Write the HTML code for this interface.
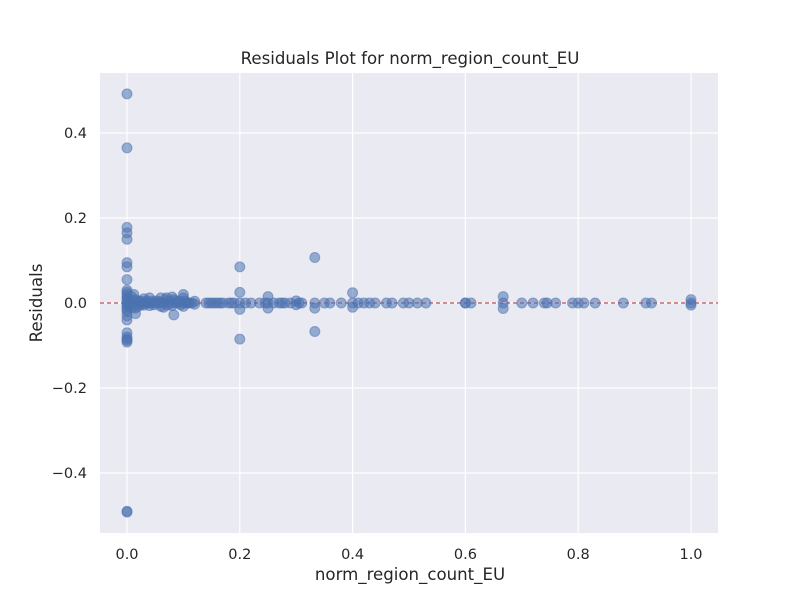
<!DOCTYPE html>
<html><head><meta charset="utf-8"><style>
body{margin:0;background:#fff;}
svg text{font-family:"DejaVu Sans","Liberation Sans",sans-serif;fill:#262626;}
</style></head><body>
<svg id="chart" width="800" height="600">
<rect x="100" y="73" width="618" height="460" fill="#eaeaf2"/>
<g id="grid"></g>
<g id="ticks"></g>
<line id="zero" stroke="#c44e52" stroke-width="1.2" stroke-dasharray="4,3"/>
<g id="pts"></g>
<text x="410" y="64" text-anchor="middle" font-size="16.6">Residuals Plot for norm_region_count_EU</text>
<text x="410" y="580" text-anchor="middle" font-size="16.6">norm_region_count_EU</text>
<text transform="translate(42,303) rotate(-90)" text-anchor="middle" font-size="16.6">Residuals</text>
</svg>
<script>
const xTicks=[0,0.2,0.4,0.6,0.8,1.0];
const xTickLabels=["0.0","0.2","0.4","0.6","0.8","1.0"];
const yTicks=[-0.4,-0.2,0,0.2,0.4];
const yTickLabels=["\u22120.4","\u22120.2","0.0","0.2","0.4"];
const pointX=[0,0,0,0,0,0,0,0,0,0,0,0,0,0,0,0,0,0,0,0,0,0,0,0,0,0,0,0,
0.003,0.005,0.006,0.008,0.01,0.01,0.012,0.012,0.015,0.015,0.015,0.018,0.02,0.02,0.022,0.025,0.025,0.028,0.03,0.03,0.033,0.035,0.038,0.04,0.04,0.042,0.045,0.048,0.05,0.053,0.055,0.058,0.06,0.06,0.063,0.065,0.068,0.07,0.07,0.072,0.075,0.078,0.08,0.08,0.083,0.083,0.085,0.088,0.09,0.093,0.095,0.1,0.1,0.1,0.1,0.103,0.105,0.108,0.11,0.115,0.12,0.12,
0.14,0.145,0.15,0.155,0.16,0.165,0.17,0.18,0.185,0.19,0.2,0.2,0.2,0.2,0.2,0.21,0.22,0.235,0.245,0.25,0.25,0.25,0.26,0.27,0.275,0.28,0.29,0.3,0.3,0.305,0.31,0.333,0.333,0.333,0.333,
0.35,0.36,0.38,0.4,0.4,0.4,0.41,0.42,0.43,0.44,0.46,0.47,0.49,0.5,0.515,0.53,0.6,0.6,0.61,0.667,0.667,0.667,0.7,0.72,0.74,0.745,0.76,0.79,0.8,0.81,0.83,0.88,0.92,0.93,1.0,1.0,1.0];
const pointY=[0.492,0.365,0.178,0.165,0.15,0.095,0.085,0.055,0.03,0.025,0.02,0.015,0.01,0.005,0.0,-0.005,-0.01,-0.015,-0.02,-0.03,-0.04,-0.07,-0.08,-0.085,-0.088,-0.092,-0.49,-0.492,
0.01,-0.005,0.0,0.015,0.005,-0.01,0.0,0.02,-0.025,0.008,-0.012,0.0,0.005,-0.008,0.0,0.004,-0.004,0.0,0.01,-0.005,0.0,0.005,0.0,0.012,-0.006,0.0,0.004,-0.004,0.0,0.005,0.0,0.003,0.012,-0.008,0.0,-0.01,0.008,0.012,0.0,-0.005,0.005,0.0,0.014,-0.006,-0.028,0.008,0.0,0.005,0.0,0.004,-0.004,0.02,0.012,-0.008,0.0,0.005,0.0,0.0,0.0,0.0,0.004,-0.003,
0,0,0,0,0,0,0,0,0,0,0.085,0.025,0.0,-0.015,-0.085,0,0,0,0,0.015,0.0,-0.012,0,0,0,0,0,0.005,-0.004,0,0,0.107,0.0,-0.012,-0.067,
0,0,0,0.024,0.0,-0.01,0,0,0,0,0,0,0,0,0,0,0.0,0.0,0,0.015,0.0,-0.013,0,0,0,0,0,0,0,0,0,0,0,0,0.008,0.0,-0.005];
const X=v=>127+(v)*564, Y=v=>303-v*425;
const ns="http://www.w3.org/2000/svg";
const grid=document.getElementById('grid'),ticks=document.getElementById('ticks'),pts=document.getElementById('pts');
xTicks.forEach((t,i)=>{const l=document.createElementNS(ns,'line');


l.setAttribute('x1',X(t));l.setAttribute('x2',X(t));l.setAttribute('y1',73);l.setAttribute('y2',533);l.setAttribute('stroke','#fff');l.setAttribute('stroke-width','1.2');grid.appendChild(l);
const tx=document.createElementNS(ns,'text');


tx.setAttribute('x',X(t));tx.setAttribute('y',559);tx.setAttribute('text-anchor','middle');tx.setAttribute('font-size','14.5');tx.textContent=xTickLabels[i];ticks.appendChild(tx);});
yTicks.forEach((t,i)=>{const l=document.createElementNS(ns,'line');


l.setAttribute('x1',100);l.setAttribute('x2',718);l.setAttribute('y1',Y(t));l.setAttribute('y2',Y(t));l.setAttribute('stroke','#fff');l.setAttribute('stroke-width','1.2');grid.appendChild(l);
const tx=document.createElementNS(ns,'text');


tx.setAttribute('x',87);tx.setAttribute('y',Y(t)+5);tx.setAttribute('text-anchor','end');tx.setAttribute('font-size','14.5');tx.textContent=yTickLabels[i];ticks.appendChild(tx);});
const z=document.getElementById('zero');z.setAttribute('x1',100);z.setAttribute('x2',718);z.setAttribute('y1',Y(0));z.setAttribute('y2',Y(0));
pointX.forEach((v,i)=>{const c=document.createElementNS(ns,'circle');


c.setAttribute('cx',X(v));c.setAttribute('cy',Y(pointY[i]));c.setAttribute('r',5);c.setAttribute('fill','#4c72b0');c.setAttribute('fill-opacity','0.55');c.setAttribute('stroke','#4c72b0');c.setAttribute('stroke-opacity','0.55');pts.appendChild(c);});
</script>
</body></html>
